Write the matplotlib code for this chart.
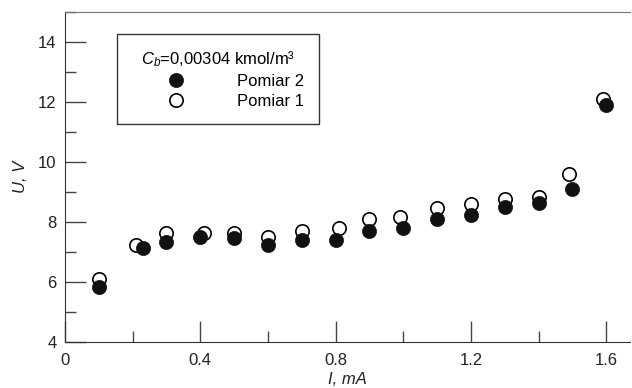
import matplotlib
matplotlib.use('Agg')
import matplotlib.pyplot as plt
from matplotlib.ticker import MultipleLocator

plt.rcParams['font.family'] = ['Liberation Sans', 'DejaVu Sans']
plt.rcParams['mathtext.fontset'] = 'custom'
plt.rcParams['mathtext.it'] = 'Liberation Sans:italic'
plt.rcParams['mathtext.rm'] = 'Liberation Sans'

# Pomiar 2 (filled)
I2 = [0.10, 0.23, 0.30, 0.40, 0.50, 0.60, 0.70, 0.80, 0.90, 1.00, 1.10, 1.20, 1.30, 1.40, 1.50, 1.60]
U2 = [5.81, 7.11, 7.31, 7.48, 7.45, 7.22, 7.39, 7.40, 7.69, 7.80, 8.11, 8.22, 8.50, 8.63, 9.11, 11.89]
# Pomiar 1 (open)
I1 = [0.10, 0.21, 0.30, 0.41, 0.50, 0.60, 0.70, 0.81, 0.90, 0.99, 1.10, 1.20, 1.30, 1.40, 1.49, 1.59]
U1 = [6.08, 7.21, 7.61, 7.61, 7.61, 7.50, 7.69, 7.79, 8.08, 8.15, 8.45, 8.61, 8.75, 8.83, 9.61, 12.11]

fs = 12

fig = plt.figure(figsize=(6.32, 3.88), dpi=100)
ax = fig.add_axes([65/632, 1-341.7/388, (630-65)/632, (341.7-12)/388])

ax.plot(I1, U1, 'o', ms=9.6, mfc='white', mec='black', mew=1.2, label='Pomiar 1', zorder=3)
ax.plot(I2, U2, 'o', ms=10.2, mfc='#111111', mec='#111111', mew=0.5, label='Pomiar 2', zorder=4)

ax.set_xlim(0, 1.67)
ax.set_ylim(4, 15)
ax.xaxis.set_minor_locator(MultipleLocator(0.2))
ax.yaxis.set_minor_locator(MultipleLocator(1))
ax.set_xticks([0, 0.4, 0.8, 1.2, 1.6])
ax.set_xticklabels(['0', '0.4', '0.8', '1.2', '1.6'])
ax.set_yticks([4, 6, 8, 10, 12, 14])

ax.tick_params(which='major', direction='in', length=15, width=1, color='#444444',
               labelsize=fs, pad=6, labelcolor='#222222')
ax.tick_params(which='minor', direction='in', length=8, width=1, color='#444444')
ax.tick_params(axis='x', which='major', pad=8)

ax.spines['right'].set_visible(False)
for s in ['left', 'bottom']:
    ax.spines[s].set_color('#333333')
ax.spines['top'].set_color('#777777')

ax.set_xlabel('I, mA', fontsize=fs, style='italic', labelpad=3, color='#222222')
ax.set_ylabel('U, V', fontsize=fs, style='italic', labelpad=7, color='#222222')

h, l = ax.get_legend_handles_labels()
leg = ax.legend(h[::-1], l[::-1], title=r'$\mathit{C}_{\mathit{b}}$=0,00304 kmol/m³',
                loc='upper left', bbox_to_anchor=(52/565, 1-22/329.7),
                fancybox=False, edgecolor='#333333', fontsize=fs, title_fontsize=fs,
                handlelength=5.3, handletextpad=1.0, borderpad=0.9, labelspacing=0.3,
                borderaxespad=0, framealpha=1, markerfirst=True)
leg.get_frame().set_linewidth(1.0)

fig.savefig('out.png', dpi=100)
